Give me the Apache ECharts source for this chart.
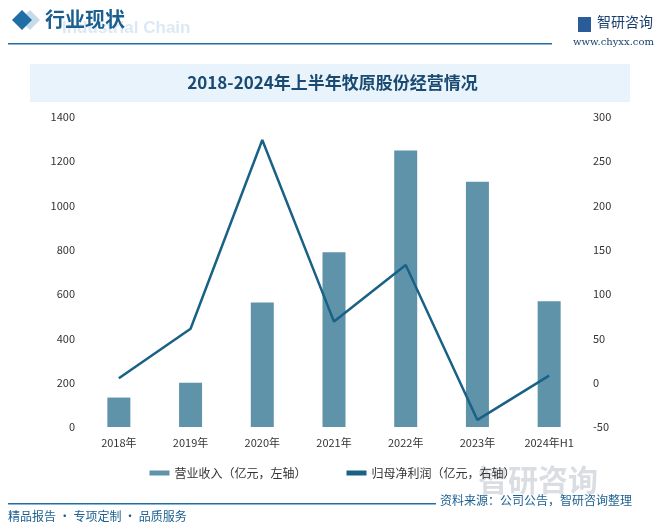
<!DOCTYPE html><html><head><meta charset="utf-8">
<script src="https://cdn.jsdelivr.net/npm/echarts@6/dist/echarts.min.js"></script>
<style>html,body{margin:0;padding:0;background:#fff}#c{width:665px;height:532px}</style></head><body><div id="c"></div>
<script>
const categories=['2018年','2019年','2020年','2021年','2022年','2023年','2024年H1'];
const revenue=[133,200,562,789,1249,1108,568];
const profit=[5,61,274,69,133,-42,8];
const leftTicks=[0,1400,200];
const rightTicks=[-50,300,50];
const f='"Noto Sans CJK SC"';
const chart=echarts.init(document.getElementById('c'));
chart.setOption({
 animation:false,
 textStyle:{fontFamily:f},
 graphic:[
  {type:'text',left:62,top:20,style:{text:'Industrial Chain',fill:'#dce9f5',font:'bold 17px Arial'}},
  {type:'polygon',shape:{points:[[22,10],[32,20],[22,30],[12,20]]},style:{fill:'#c7dceb'},position:[8,0]},
  {type:'polygon',shape:{points:[[22,10],[32,20],[22,30],[12,20]]},style:{fill:'#1f6fa6'}},
  {type:'text',left:45,top:9,style:{text:'行业现状',fill:'#1a5f8f',font:'bold 20px '+f}},
  {type:'rect',shape:{x:8,y:43,width:544,height:1.5},style:{fill:'#1f6fa6'}},
  {type:'rect',shape:{x:578,y:17,width:13,height:15},style:{fill:'#2a5c9a'}},
  {type:'text',left:597,top:15,style:{text:'智研咨询',fill:'#1a3f6f',font:'14px '+f}},
  {type:'text',left:573,top:37,style:{text:'www.chyxx.com',fill:'#1a3f6f',font:'10px "DejaVu Serif"'}},
  {type:'rect',shape:{x:30,y:64,width:600,height:38},style:{fill:'#e8f3fb'}},
  {type:'text',left:'center',top:74,style:{text:'2018-2024年上半年牧原股份经营情况',fill:'#1a4a72',font:'bold 17px '+f}},
  {type:'text',left:478,top:465,style:{text:'智研咨询',fill:'rgba(150,160,175,0.35)',font:'bold 30px '+f}},
  {type:'rect',shape:{x:8,y:503,width:428,height:1.5},style:{fill:'#1f6fa6'}},
  {type:'text',left:440,top:494,style:{text:'资料来源：公司公告，智研咨询整理',fill:'#1a5f8f',font:'12px '+f}},
  {type:'text',left:8,top:510,style:{text:'精品报告 · 专项定制 · 品质服务',fill:'#1a5f8f',font:'12px '+f}}
 ],
 legend:{top:462,left:'center',itemGap:40,itemWidth:20,itemHeight:5,textStyle:{fontSize:12,color:'#333',fontFamily:f},
  data:[{name:'营业收入（亿元，左轴）',icon:'rect'},{name:'归母净利润（亿元，右轴）',icon:'rect'}]},
 grid:{left:83,right:80,top:117,bottom:105},
 xAxis:{type:'category',data:categories,axisTick:{show:false},axisLine:{show:false},axisLabel:{color:'#333',fontSize:11,margin:10}},
 yAxis:[
  {type:'value',min:leftTicks[0],max:leftTicks[1],interval:leftTicks[2],splitLine:{show:false},axisLabel:{color:'#333',fontSize:11,formatter:v=>String(v)}},
  {type:'value',min:rightTicks[0],max:rightTicks[1],interval:rightTicks[2],splitLine:{show:false},axisLabel:{color:'#333',fontSize:11}}
 ],
 series:[
  {name:'营业收入（亿元，左轴）',type:'bar',data:revenue,barWidth:23,itemStyle:{color:'#5e93aa'}},
  {name:'归母净利润（亿元，右轴）',type:'line',yAxisIndex:1,data:profit,symbol:'none',lineStyle:{color:'#1a6186',width:2.5},itemStyle:{color:'#1a6186'}}
 ]
});
</script></body></html>
